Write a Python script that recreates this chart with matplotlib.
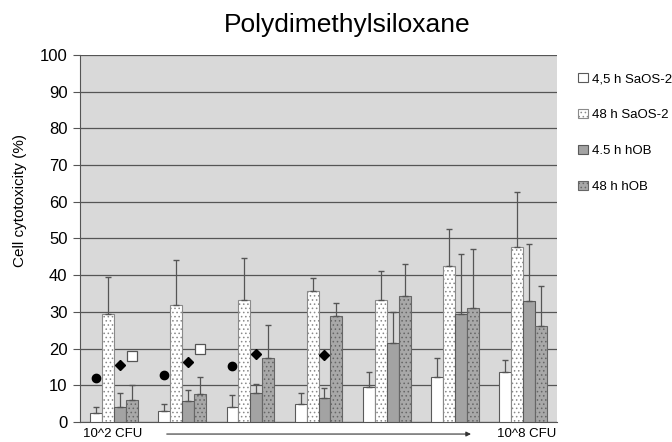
import matplotlib.pyplot as plt
import numpy as np
from matplotlib.patches import Patch

plt.rcParams['font.family'] = ['Liberation Sans', 'DejaVu Sans']
plt.rcParams['hatch.linewidth'] = 0.6

series = ['4,5 h SaOS-2', '48 h SaOS-2', '4.5 h hOB', '48 h hOB']
saos_4h = [2.5, 3.0, 4.0, 5.0, 9.6, 12.4, 13.6]
saos_4h_err = [1.5, 1.8, 3.3, 2.8, 4.0, 5.1, 3.2]
saos_48h = [29.5, 32.0, 33.3, 35.8, 33.2, 42.6, 47.6]
saos_48h_err = [10.0, 12.0, 11.4, 3.5, 8.0, 10.1, 15.0]
hob_4h = [4.0, 5.8, 7.8, 6.7, 21.5, 29.5, 33.0]
hob_4h_err = [4.0, 3.0, 2.5, 2.6, 8.5, 16.3, 15.5]
hob_48h = [6.0, 7.6, 17.5, 29.0, 34.4, 31.0, 26.3]
hob_48h_err = [4.0, 4.6, 9.0, 3.3, 8.6, 16.0, 10.7]

# significance markers: (group, series index, value)
circles = [(0, 0, 12.0), (1, 0, 12.9), (2, 0, 15.3)]
diamonds = [(0, 2, 15.5), (1, 2, 16.4), (2, 2, 18.5), (3, 2, 18.3)]
squares = [(0, 3, 18.0), (1, 3, 19.9)]

values = [saos_4h, saos_48h, hob_4h, hob_48h]
errors = [saos_4h_err, saos_48h_err, hob_4h_err, hob_48h_err]
faces = ['white', 'white', '#a3a3a3', '#a8a8a8']
hatches = [None, '....', None, '....']
hatch_edges = ['#5a5a5a', '#8a8a8a', '#5a5a5a', '#666666']

fig = plt.figure(figsize=(6.72, 4.42), dpi=100)
ax = fig.add_axes([0.119, 0.045, 0.71, 0.831])
ax.set_facecolor('#d9d9d9')

x = np.arange(len(saos_4h))
w = 0.175
offsets = [-1.5 * w, -0.5 * w, 0.5 * w, 1.5 * w]

for i in range(4):
    ax.bar(x + offsets[i], values[i], w, color=faces[i], edgecolor=hatch_edges[i],
           hatch=hatches[i], linewidth=0.8, zorder=3)
    ax.errorbar(x + offsets[i], values[i], yerr=[np.zeros(len(x)), errors[i]],
                fmt='none', ecolor='#555555', elinewidth=0.9, capsize=2.5, zorder=4)

for g, s, v in circles:
    ax.plot(g + offsets[s], v, 'o', color='black', markersize=6, zorder=5)
for g, s, v in diamonds:
    ax.plot(g + offsets[s], v, 'D', color='black', markersize=5, zorder=5)
for g, s, v in squares:
    ax.plot(g + offsets[s], v, 's', markerfacecolor='white', markeredgecolor='#555555',
            markersize=7, markeredgewidth=0.9, zorder=5)

ax.set_xlim(-0.5, 6.5)
ax.set_ylim(0, 100)
ax.set_yticks(np.arange(0, 101, 10))
ax.tick_params(axis='y', labelsize=12, length=5, color='#555555', pad=4)
ax.set_xticks([])
ax.yaxis.grid(True, color='#555555', linewidth=0.9, zorder=0)
ax.set_axisbelow(True)
for side in ['top', 'right']:
    ax.spines[side].set_visible(False)
ax.spines['left'].set_color('#555555')
ax.spines['bottom'].set_color('#555555')

fig.text(0.03, 0.547, 'Cell cytotoxicity (%)', rotation=90, ha='center', va='center',
         fontsize=11)
fig.text(0.517, 0.943, 'Polydimethylsiloxane', ha='center', va='center', fontsize=19)

# concentration arrow under the axis
fig.text(0.123, 0.018, '10^2 CFU', ha='left', va='center', fontsize=9.5)
fig.text(0.828, 0.018, '10^8 CFU', ha='right', va='center', fontsize=9.5)
ax.annotate('', xy=(0.705, 0.018), xytext=(0.244, 0.018), xycoords='figure fraction',
            arrowprops=dict(arrowstyle='-|>', color='#333333', lw=0.8,
                            mutation_scale=7))

handles = [Patch(facecolor=faces[i], edgecolor=hatch_edges[i], hatch=hatches[i],
                 linewidth=0.8) for i in range(4)]
fig.legend(handles, series, loc='upper left', bbox_to_anchor=(0.843, 0.862),
           frameon=False, fontsize=9.5, handlelength=0.7, handleheight=0.7,
           handletextpad=0.3, labelspacing=1.8)

fig.savefig('out.png', dpi=100)
